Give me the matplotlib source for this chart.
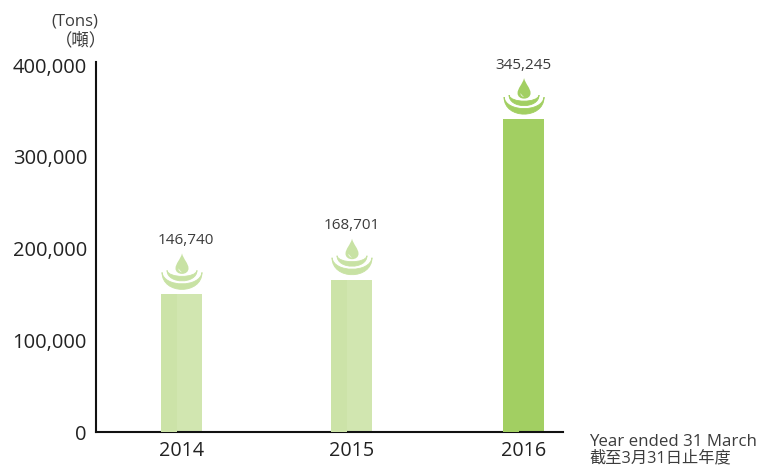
"""
Annual tonnage bars with droplet icons on top.
"""

import matplotlib
matplotlib.use("Agg")
import matplotlib.pyplot as plt
from matplotlib.patches import PathPatch
from matplotlib.path import Path
from matplotlib.transforms import Affine2D

plt.rcParams["font.family"] = ["Open Sans", "Noto Sans CJK TC", "DejaVu Sans"]

years = ["2014", "2015", "2016"]
positions = [0, 1, 2.012]
# heights as drawn in the picture, labels as printed
bar_heights = [150000, 166000, 341000]
bar_labels = ["146,740", "168,701", "345,245"]
yticks = [0, 100000, 200000, 300000, 400000]
ytick_labels = ["0", "100,000", "200,000", "300,000", "400,000"]

bar_colors = ["#d1e6b0", "#d1e6b0", "#a2cf62"]
shade_colors = ["#cce3a8", "#cce3a8", "#a2cf62"]
icon_colors = ["#c8e2a4", "#c8e2a4", "#a2cf62"]
label_shift = [3.2, 0.4, 0]  # points, first label sits off centre
dark = "#3c3c3c"


def crescent(half_w, tip_y, inner_mid, outer_mid):
    # ripple shape, pixels relative to bar top centre, y up
    # cubic midpoint = 0.25 * tip + 0.75 * control
    outer_c = (outer_mid - 0.25 * tip_y) / 0.75
    inner_c = (inner_mid - 0.25 * tip_y) / 0.75
    inner_w = half_w * 0.9
    verts = [(-half_w, tip_y),
             (-half_w, outer_c), (half_w, outer_c), (half_w, tip_y),
             (inner_w, inner_c), (-inner_w, inner_c), (-half_w, tip_y),
             (-half_w, tip_y)]
    codes = [Path.MOVETO, Path.CURVE4, Path.CURVE4, Path.CURVE4,
             Path.CURVE4, Path.CURVE4, Path.CURVE4, Path.CLOSEPOLY]
    return Path(verts, codes)


def droplet():
    verts = [(0, 41),
             (-1.5, 35), (-6.5, 31), (-6.5, 26),
             (-6.5, 22.5), (-3.5, 20.5), (0, 20.5),
             (3.5, 20.5), (6.5, 22.5), (6.5, 26),
             (6.5, 31), (1.5, 35), (0, 41),
             (0, 41)]
    codes = [Path.MOVETO] + [Path.CURVE4] * 12 + [Path.CLOSEPOLY]
    return Path(verts, codes)


def glint():
    verts = [(-3.5, 26), (-3.8, 23.5), (-2, 22.5), (0, 22),
             (-1.5, 23.5), (-2.5, 24.5), (-3.5, 26), (-3.5, 26)]
    codes = [Path.MOVETO] + [Path.CURVE4] * 6 + [Path.CLOSEPOLY]
    return Path(verts, codes)


fig = plt.figure(figsize=(7.6, 4.67), dpi=100)
ax = fig.add_axes([96 / 760, 35 / 467, 467 / 760, 370 / 467])
ax.set_xlim(-0.503, 2.244)
ax.set_ylim(0, 403270)

ax.bar(positions, bar_heights, width=0.241, color=bar_colors, zorder=2)
# left part of each bar is a slightly deeper green
ax.bar([p - 0.073 for p in positions], bar_heights, width=0.095, color=shade_colors, zorder=3)

for pos, height, label, col, shift in zip(positions, bar_heights, bar_labels, icon_colors, label_shift):
    px, py = ax.transData.transform((pos, height))
    tr = Affine2D().translate(px + 0.5, py)
    ax.add_patch(PathPatch(crescent(20, 22, 10.5, 5), fc=col, ec=col, lw=0.6, transform=tr, zorder=4))
    ax.add_patch(PathPatch(crescent(15, 24, 18, 13.5), fc=col, ec=col, lw=0.6, transform=tr, zorder=4))
    ax.add_patch(PathPatch(droplet(), fc=col, ec="none", transform=tr, zorder=4))
    ax.add_patch(PathPatch(glint(), fc="white", ec="none", alpha=0.7, transform=tr, zorder=5))
    ax.annotate(label, (pos, height), xytext=(shift, 33.5), textcoords="offset points",
                ha="center", va="bottom", fontsize=11, color=dark)

for side in ["top", "right"]:
    ax.spines[side].set_visible(False)
for side in ["left", "bottom"]:
    ax.spines[side].set_linewidth(1.5)
    ax.spines[side].set_color("#111111")

ax.set_xticks(positions)
ax.set_xticklabels(years)
ax.set_yticks(yticks)
ax.set_yticklabels(ytick_labels)
ax.tick_params(axis="both", length=0, labelcolor="#222222")
ax.tick_params(axis="x", pad=6.5, labelsize=14.2)
ax.tick_params(axis="y", pad=6.5, labelsize=14.5)

fig.text(98 / 760, 1 - 22 / 467, "(Tons)", ha="right", va="center", fontsize=12, color=dark)
fig.text(107 / 760, 1 - 41 / 467, "（噸）", ha="right", va="center", fontsize=12.5, color=dark)
fig.text(589 / 760, 1 - 442 / 467, "Year ended 31 March", ha="left", va="center",
         fontsize=12.2, color=dark)
fig.text(589 / 760, 1 - 458.5 / 467, "截至3月31日止年度", ha="left", va="center",
         fontsize=11.7, color=dark)

fig.savefig("out.png", dpi=100)
